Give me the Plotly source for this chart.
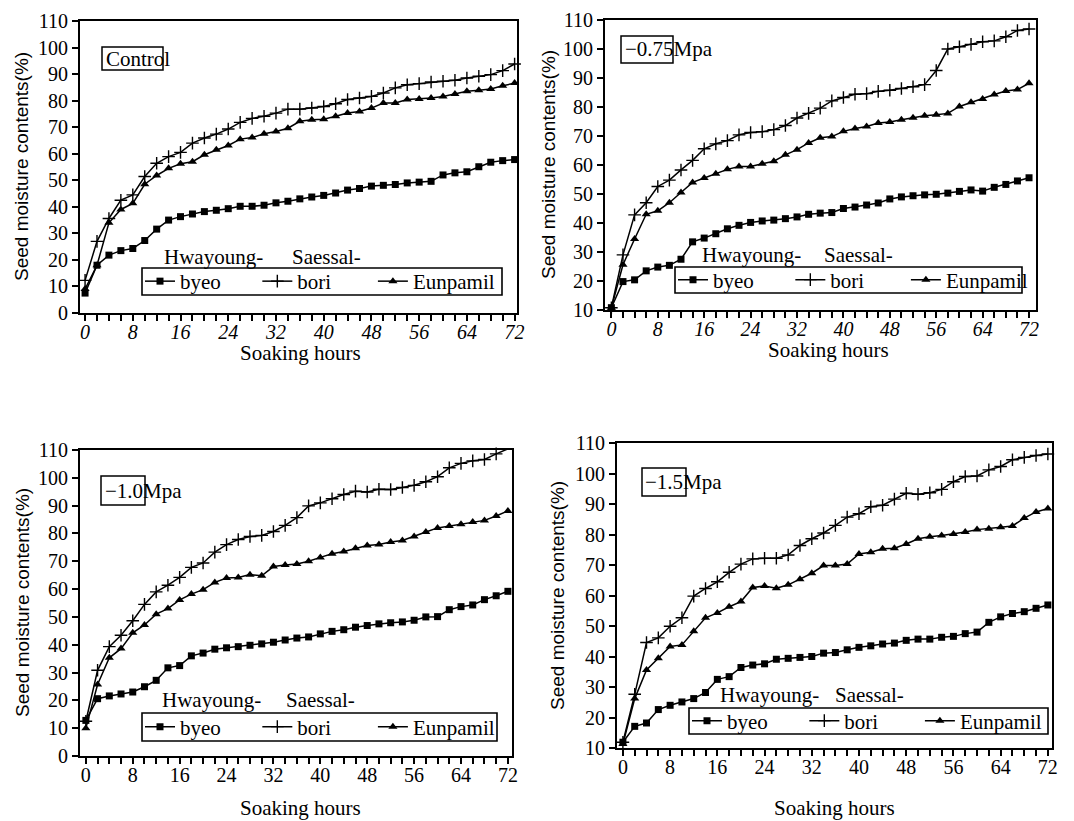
import plotly.graph_objects as go

# ---------------- data ----------------
hours = [0, 2, 4, 6, 8, 10, 12, 14, 16, 18, 20, 22, 24, 26, 28, 30, 32, 34, 36,
         38, 40, 42, 44, 46, 48, 50, 52, 54, 56, 58, 60, 62, 64, 66, 68, 70, 72]

series_names = ["byeo", "bori", "Eunpamil"]
series_prefix = ["Hwayoung-", "Saessal-", ""]
panel_labels = ["Control", "\u22120.75Mpa", "\u22121.0Mpa", "\u22121.5Mpa"]

# Control
ctrl_byeo = [7.5, 18.0, 21.8, 23.5, 24.3, 27.3, 31.6, 35.0, 36.3, 37.3, 38.2, 38.7, 39.3,
             40.2, 40.2, 40.6, 41.5, 42.1, 43.0, 43.7, 44.3, 45.2, 46.3, 46.9, 47.8, 48.1,
             48.4, 49.0, 49.3, 49.6, 52.0, 52.8, 53.2, 55.1, 56.8, 57.4, 57.8]
ctrl_bori = [12.3, 27.0, 35.6, 42.5, 44.5, 51.4, 56.4, 58.9, 60.5, 64.0, 65.9, 67.4, 69.3,
             71.8, 73.3, 74.1, 75.3, 76.8, 76.8, 77.2, 77.8, 78.8, 80.4, 81.0, 81.6, 82.9,
             84.8, 86.0, 86.4, 87.0, 87.3, 87.7, 88.5, 89.2, 89.8, 91.3, 93.8]
ctrl_eunp = [9.0, 18.0, 34.0, 39.0, 41.3, 48.5, 51.8, 54.5, 56.2, 57.0, 59.6, 61.5, 63.1,
             65.5, 66.1, 67.5, 68.4, 69.6, 72.2, 72.8, 73.0, 74.1, 75.3, 75.9, 77.2, 79.1,
             79.1, 80.4, 80.6, 81.0, 81.6, 82.5, 83.5, 83.9, 84.4, 85.6, 86.6]

# -0.75 MPa
m075_byeo = [10.8, 19.8, 20.4, 23.5, 24.8, 25.4, 27.5, 33.5, 34.8, 36.3, 38.0, 39.2, 40.2,
             40.7, 41.0, 41.5, 42.1, 43.0, 43.4, 43.6, 45.0, 45.5, 46.2, 46.9, 48.3, 49.0,
             49.4, 49.7, 49.9, 50.3, 50.9, 51.4, 51.0, 52.3, 53.3, 54.5, 55.6]
m075_bori = [10.8, 29.0, 42.8, 47.0, 52.6, 54.8, 58.3, 61.6, 65.6, 67.3, 68.4, 70.4, 71.2,
             71.5, 72.2, 73.6, 76.2, 77.8, 79.6, 82.1, 83.3, 84.4, 84.6, 85.4, 85.8, 86.4,
             87.0, 87.7, 92.6, 100.0, 100.8, 101.6, 102.5, 102.8, 104.2, 106.4, 106.9]
m075_eunp = [10.8, 25.6, 34.5, 43.0, 44.2, 47.0, 50.5, 54.0, 55.5, 57.0, 58.5, 59.5, 59.5,
             60.4, 61.3, 63.5, 65.3, 67.6, 69.4, 69.8, 71.6, 72.6, 73.3, 74.5, 74.8, 75.6,
             76.3, 77.0, 77.3, 77.8, 80.2, 81.6, 82.8, 84.3, 85.5, 86.0, 88.2]

# -1.0 MPa
m10_byeo = [12.8, 20.6, 21.6, 22.3, 23.0, 24.9, 27.2, 31.7, 32.5, 36.0, 37.0, 38.4, 38.9,
            39.3, 39.8, 40.3, 40.9, 41.7, 42.4, 42.8, 43.9, 44.8, 45.4, 46.3, 46.9, 47.5,
            47.9, 48.2, 48.8, 50.0, 50.1, 52.6, 53.7, 54.3, 56.2, 57.6, 59.2]
m10_bori = [12.5, 30.8, 39.3, 43.4, 48.6, 54.5, 59.0, 61.4, 64.2, 67.8, 69.4, 73.3, 76.0,
            77.8, 78.9, 79.3, 80.7, 82.9, 85.7, 89.9, 91.0, 92.5, 94.0, 95.2, 94.9, 95.9,
            95.8, 96.5, 97.3, 98.6, 100.4, 103.6, 105.2, 106.1, 106.6, 108.6, 110.4]
m10_eunp = [10.0, 25.7, 35.3, 38.6, 44.3, 47.1, 51.0, 53.0, 56.1, 58.2, 59.8, 62.4, 64.0,
            64.2, 65.2, 64.8, 68.1, 68.7, 69.0, 70.0, 71.4, 72.7, 73.5, 74.7, 75.7, 76.0,
            76.9, 77.5, 78.9, 80.5, 82.0, 82.7, 83.3, 84.1, 84.7, 86.3, 88.1]

# -1.5 MPa
m15_byeo = [11.9, 17.1, 18.2, 22.6, 24.0, 25.1, 26.2, 28.2, 32.5, 33.4, 36.4, 37.2, 37.6,
            39.1, 39.4, 39.7, 40.0, 41.1, 41.3, 42.2, 43.0, 43.5, 44.1, 44.4, 45.3, 45.7,
            45.7, 46.3, 46.6, 47.5, 48.0, 51.2, 53.0, 54.1, 54.7, 55.8, 56.9]
m15_bori = [11.9, 27.6, 44.6, 46.1, 49.9, 52.7, 59.8, 62.3, 64.5, 67.6, 70.3, 72.0, 72.2,
            72.2, 73.3, 76.4, 78.6, 80.5, 83.0, 85.7, 86.8, 89.1, 89.6, 91.6, 93.5, 93.2,
            93.7, 94.8, 97.3, 99.0, 99.2, 101.2, 102.3, 104.5, 105.3, 105.9, 106.4]
m15_eunp = [11.3, 26.2, 35.6, 39.4, 43.3, 43.8, 48.3, 52.7, 54.3, 56.3, 58.0, 62.6, 63.1,
            62.4, 63.5, 65.3, 67.3, 69.8, 69.8, 70.3, 73.6, 74.2, 75.3, 75.5, 76.9, 78.6,
            79.3, 79.7, 80.2, 80.8, 81.6, 81.9, 82.4, 82.8, 85.4, 87.4, 88.5]

panels_data = [
    [ctrl_byeo, ctrl_bori, ctrl_eunp],
    [m075_byeo, m075_bori, m075_eunp],
    [m10_byeo, m10_bori, m10_eunp],
    [m15_byeo, m15_bori, m15_eunp],
]
y_ranges = [[0, 110], [10, 110], [0, 110], [10, 110]]
y_tickvals = [[0, 10, 20, 30, 40, 50, 60, 70, 80, 90, 100, 110],
              [10, 20, 30, 40, 50, 60, 70, 80, 90, 100, 110],
              [0, 10, 20, 30, 40, 50, 60, 70, 80, 90, 100, 110],
              [10, 20, 30, 40, 50, 60, 70, 80, 90, 100, 110]]
x_tickvals = [0, 8, 16, 24, 32, 40, 48, 56, 64, 72]
y_title = "Seed moisture contents(%)"
x_title = "Soaking hours"

# ---------------- layout (pixels) ----------------
W, H = 1074, 821
SERIF = "Liberation Serif, Times New Roman, serif"
SANS = "Liberation Sans, Arial, sans-serif"

# plot-area boxes: left, right, top, bottom in pixels
boxes = [(80, 517, 21, 313), (605, 1036, 20, 310), (80, 512, 450, 756), (617, 1052, 443, 748)]
x_ranges = [[-0.85, 72.4], [-1.1, 73.2], [-1.0, 72.7], [-1.0, 72.7]]
italic_ticks = [True, True, False, False]

def px(x):
    return x / W

def py(y):
    return 1 - y / H

marker_defs = [
    dict(symbol="square", size=7, color="black"),
    dict(symbol="cross-thin", size=9, color="black", line=dict(width=1.4, color="black")),
    dict(symbol="triangle-up", size=8, color="black"),
]
# legend text padding (non-breaking spaces) so entries sit where the reference has them
legend_pad = ["&nbsp;" * 6, "&nbsp;" * 7, ""]

fig = go.Figure()
layout = dict(width=W, height=H, margin=dict(l=0, r=0, t=0, b=0, autoexpand=False),
              paper_bgcolor="white", plot_bgcolor="white", showlegend=True,
              template="none")

annotations = []
shapes = []

# label boxes (box x0,x1,y0,y1 ; text x)
label_boxes = [(102, 163, 47, 70, 104), (621, 673, 36, 63, 623),
               (101, 145, 476, 505, 103), (642, 686, 468, 496, 643)]
# legend boxes: x0, x1, y0, y1
legend_boxes = [(142, 502, 268, 295), (675, 1022, 267, 293), (142, 497, 713, 741), (689, 1048, 708, 734)]
prefix_pos = [((162, 290), 257), ((700, 822), 255), ((160, 284), 700), ((718, 833), 695)]
ytitle_pos = [(22, 167), (548, 165), (22, 603), (557, 596)]
xtitle_pos = [(300, 353), (828, 350), (300, 808), (834, 808)]

for i in range(4):
    sfx = "" if i == 0 else str(i + 1)
    l, r, t, b = boxes[i]
    xa = dict(domain=[px(l), px(r)], range=x_ranges[i], anchor="y" + sfx, automargin=False,
              showgrid=False, zeroline=False, showline=True, linecolor="black", linewidth=1.8,
              mirror=True, ticks="outside", ticklen=6, tickwidth=1.5, tickcolor="black",
              ticklabelstandoff=-6,
              tickvals=x_tickvals, ticktext=[str(v) for v in x_tickvals],
              tickfont=dict(family=SERIF, size=20, color="black",
                            style="italic" if italic_ticks[i] else "normal"),
              minor=dict(tickvals=hours, ticks="outside", ticklen=6, tickwidth=1.5,
                         tickcolor="black", showgrid=False))
    ya = dict(domain=[py(b), py(t)], range=y_ranges[i], anchor="x" + sfx, automargin=False,
              showgrid=False, zeroline=False, showline=True, linecolor="black", linewidth=1.8,
              mirror=True, ticks="outside", ticklen=6, tickwidth=1.5, tickcolor="black",
              tickvals=y_tickvals[i], ticktext=[str(v) for v in y_tickvals[i]],
              tickfont=dict(family=SERIF, size=20, color="black"))
    layout["xaxis" + sfx] = xa
    layout["yaxis" + sfx] = ya

    legname = "legend" + ("" if i == 0 else str(i + 1))
    lx0, lx1, ly0, ly1 = legend_boxes[i]
    layout[legname] = dict(x=px(lx0 - 2), y=py((ly0 + ly1) / 2), xanchor="left", yanchor="middle",
                           orientation="h", bgcolor="rgba(0,0,0,0)", borderwidth=0,
                           font=dict(family=SERIF, size=21, color="black"),
                           itemwidth=30, tracegroupgap=0,
                           itemclick=False, itemdoubleclick=False)
    shapes.append(dict(type="rect", xref="paper", yref="paper", x0=px(lx0), x1=px(lx1),
                       y0=py(ly1), y1=py(ly0), line=dict(color="black", width=1.6),
                       fillcolor="white", layer="above"))

    for k in range(3):
        fig.add_trace(go.Scatter(
            x=hours, y=panels_data[i][k], mode="lines+markers",
            name=series_names[k] + legend_pad[k],
            line=dict(color="black", width=1.5), marker=marker_defs[k],
            xaxis="x" + sfx, yaxis="y" + sfx, legend=legname, showlegend=True,
            cliponaxis=False))

    # panel condition label with partial box
    bx0, bx1, by0, by1, tx = label_boxes[i]
    shapes.append(dict(type="rect", xref="paper", yref="paper", x0=px(bx0), x1=px(bx1),
                       y0=py(by1), y1=py(by0), line=dict(color="black", width=1.5)))
    annotations.append(dict(text=panel_labels[i], xref="paper", yref="paper",
                            x=px(tx), y=py((by0 + by1) / 2), xanchor="left", yanchor="middle",
                            showarrow=False, font=dict(family=SERIF, size=21, color="black")))
    # legend prefixes
    (p1x, p2x), pyy = prefix_pos[i]
    for txt, xx in ((series_prefix[0], p1x), (series_prefix[1], p2x)):
        annotations.append(dict(text=txt, xref="paper", yref="paper", x=px(xx), y=py(pyy),
                                xanchor="left", yanchor="middle", showarrow=False,
                                font=dict(family=SERIF, size=21, color="black")))
    # axis titles
    yx, yy = ytitle_pos[i]
    annotations.append(dict(text=y_title, xref="paper", yref="paper", x=px(yx), y=py(yy),
                            xanchor="center", yanchor="middle", textangle=-90, showarrow=False,
                            font=dict(family=SANS, size=19, color="black")))
    xx, xy = xtitle_pos[i]
    annotations.append(dict(text=x_title, xref="paper", yref="paper", x=px(xx), y=py(xy),
                            xanchor="center", yanchor="middle", showarrow=False,
                            font=dict(family=SERIF, size=21, color="black")))

layout["annotations"] = annotations
layout["shapes"] = shapes
fig.update_layout(**layout)
fig.write_html("out.html", config={"displayModeBar": False},
               post_script="document.body.style.margin='0px';")
